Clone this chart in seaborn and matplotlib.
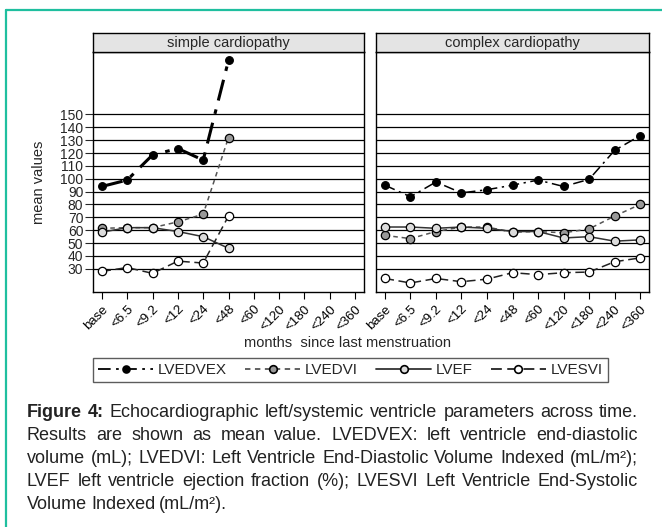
import matplotlib
matplotlib.use("Agg")
import matplotlib.pyplot as plt
import matplotlib.transforms as mtransforms
from matplotlib.lines import Line2D
from matplotlib import font_manager
import seaborn as sns

# data
months = ["base", "<6.5", "<9.2", "<12", "<24", "<48", "<60", "<120", "<180", "<240", "<360"]
series_names = ["LVEDVEX", "LVEDVI", "LVEF", "LVESVI"]

simple_lvedvex = [94, 99, 118.5, 123.5, 114.5, 192]
simple_lvedvi = [61.5, 62, 62, 66.5, 72.5, 132]
simple_lvef = [58.5, 62, 62, 59, 55, 46]
simple_lvesvi = [28, 31, 26.5, 36, 34.5, 71]

complex_lvedvex = [95, 86, 97.5, 89, 91.5, 95, 99, 94, 99.5, 122, 133.5]
complex_lvedvi = [56, 53.5, 59, 62.5, 62.5, 58.5, 59, 58, 61, 71, 80]
complex_lvef = [62.5, 62.5, 61.5, 62.5, 61.5, 59, 59, 54, 55, 51.5, 52.5]
complex_lvesvi = [22.5, 19, 22.5, 20, 22, 27, 25.5, 27, 27.5, 35.5, 38.5]

yticks = list(range(30, 160, 10))

caption_lines = [
    "Figure 4: Echocardiographic left/systemic ventricle parameters across time.",
    "Results are shown as mean value. LVEDVEX: left ventricle end-diastolic",
    "volume (mL); LVEDVI: Left Ventricle End-Diastolic Volume Indexed (mL/m\u00b2);",
    "LVEF left ventricle ejection fraction (%); LVESVI Left Ventricle End-Systolic",
    "Volume Indexed (mL/m\u00b2).",
]

panels = {
    "simple cardiopathy": [simple_lvedvex, simple_lvedvi, simple_lvef, simple_lvesvi],
    "complex cardiopathy": [complex_lvedvex, complex_lvedvi, complex_lvef, complex_lvesvi],
}

# line / marker styles
styles = {
    "LVEDVEX": dict(ls=(0, (7, 3, 1.5, 3)), color="black", mfc="black", ms=5.5),
    "LVEDVI": dict(ls=(0, (3, 2.5)), color="#555555", mfc="#999999", ms=6),
    "LVEF": dict(ls="-", color="#333333", mfc="#dcdcdc", ms=6),
    "LVESVI": dict(ls=(0, (6, 3)), color="#222222", mfc="white", ms=6),
}

sns.set_theme(style="white")
avail = {f.name for f in font_manager.fontManager.ttflist}
narrow = "Liberation Sans Narrow" if "Liberation Sans Narrow" in avail else "Liberation Sans"
plt.rcParams["font.family"] = ["Liberation Sans", "DejaVu Sans"]

W, H = 662, 527
fig = plt.figure(figsize=(W / 100, H / 100), dpi=100)


def px_box(x0, y0, x1, y1):
    return [x0 / W, 1 - y1 / H, (x1 - x0) / W, (y1 - y0) / H]


boxes = [(93, 52, 364, 292), (376, 52, 649, 292)]

for i, (title, vals) in enumerate(panels.items()):
    x0, y0, x1, y1 = boxes[i]
    ax = fig.add_axes(px_box(x0, y0, x1, y1))
    for name, v in zip(series_names, vals):
        st = styles[name]
        lw = 2.2 if (name == "LVEDVEX" and i == 0) else 1.1
        sns.lineplot(x=list(range(len(v))), y=v, ax=ax, color=st["color"],
                     linestyle=st["ls"], lw=lw, marker="o", ms=st["ms"],
                     markerfacecolor=st["mfc"], mec="black", mew=0.9,
                     legend=False, zorder=3)
    ax.set_xlim(-0.35, 10.35)
    ax.set_ylim(12, 198.5)
    ax.set_yticks(yticks)
    ax.yaxis.grid(True, color="black", lw=0.9)
    ax.set_axisbelow(True)
    ax.set_xticks(range(len(months)))
    ax.set_xticklabels(months, rotation=45, ha="right", rotation_mode="anchor", fontsize=9.5)
    ax.tick_params(axis="x", bottom=True, direction="out", length=5, width=0.8, pad=3, colors="black")
    if i == 0:
        ax.set_yticklabels([str(t) for t in yticks], fontsize=10)
        ax.tick_params(axis="y", left=True, direction="out", length=6, width=0.8, pad=1)
    else:
        ax.tick_params(axis="y", left=False, labelleft=False)
    ax.set_xlabel("")
    ax.set_ylabel("")
    for sp in ax.spines.values():
        sp.set_color("black")
        sp.set_linewidth(1.0)

    sx = fig.add_axes(px_box(x0, 33, x1, y0))
    sx.set_facecolor("#e4e4e4")
    sx.set_xticks([])
    sx.set_yticks([])
    for sp in sx.spines.values():
        sp.set_color("black")
        sp.set_linewidth(1.0)
    sx.text(0.5, 0.48, title, ha="center", va="center", fontsize=10.5, transform=sx.transAxes)

fig.text(39 / W, 1 - 182 / H, "mean values", rotation=90, ha="center", va="center", fontsize=10.5)
fig.text(347 / W, 1 - 343 / H, "months  since last menstruation", ha="center", va="center", fontsize=10.5)

handles = [Line2D([], [], color=styles[n]["color"], ls=styles[n]["ls"], lw=1.3, marker="o",
                  ms=styles[n]["ms"] - 0.5, mfc=styles[n]["mfc"], mec="black", mew=1.2)
           for n in series_names]
leg = fig.legend(handles, series_names, loc="center", bbox_to_anchor=(350.5 / W, 1 - 370 / H),
                 ncol=4, frameon=True, fancybox=False, edgecolor="#333333", fontsize=11,
                 handlelength=3.6, handletextpad=0.3, columnspacing=1.2, borderpad=0.35)
leg.get_frame().set_linewidth(1.0)

# teal frame around figure + caption
teal = "#1fbf9f"
fig.add_artist(Line2D([6 / W, 6 / W], [0, 1 - 10 / H], transform=fig.transFigure, color=teal, lw=1.6))
fig.add_artist(Line2D([6 / W, 1], [1 - 10 / H, 1 - 10 / H], transform=fig.transFigure, color=teal, lw=1.6))

# justified caption, placed word by word in pixels
ident = mtransforms.IdentityTransform()
renderer = fig.canvas.get_renderer()
cap_x0, cap_x1 = 27, 638
cap_y = [417, 440, 463, 486, 509]  # baselines
cap_fs = 13.0
for li, line in enumerate(caption_lines):
    words = line.split(" ")
    texts = []
    for wi, w in enumerate(words):
        bold = li == 0 and wi < 2
        t = fig.text(0, H - cap_y[li], w, fontsize=cap_fs, family=[narrow, "DejaVu Sans"],
                     fontweight="bold" if bold else "normal", color="#222222",
                     ha="left", va="baseline", transform=ident)
        texts.append(t)
    widths = [t.get_window_extent(renderer).width for t in texts]
    if li < len(caption_lines) - 1 and len(words) > 1:
        gap = (cap_x1 - cap_x0 - sum(widths)) / (len(words) - 1)
    else:
        gap = cap_fs * 0.3
    x = cap_x0
    for t, w in zip(texts, widths):
        t.set_x(x)
        x += w + gap

fig.savefig("out.png", dpi=100)
